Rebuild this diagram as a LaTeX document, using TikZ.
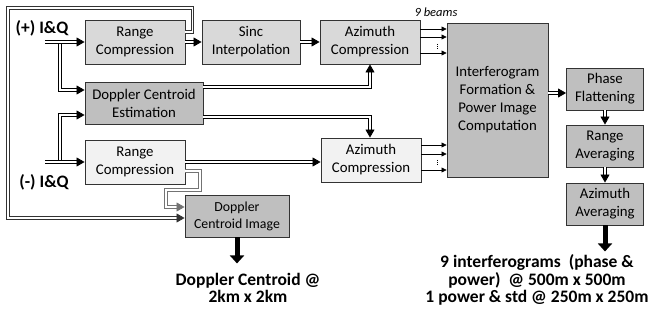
\documentclass[tikz,border=0pt]{standalone}
\usepackage{fontspec}
\setmainfont{Carlito}
\usepackage{xcolor}
\usetikzlibrary{
    arrows.meta,
    positioning
}
\definecolor{boxlight}{HTML}{D9D9D9}
\definecolor{boxmid}{HTML}{BFBFBF}
\definecolor{boxpale}{HTML}{F2F2F2}

\begin{document}
\begin{tikzpicture}[
        x=1pt, y=-1pt,
        >=Stealth,
        block/.style={
            draw=black!80,
            line width=0.9pt,
            align=center,
            inner sep=0pt,
            minimum width=100pt,
            minimum height=44pt,
            font=\fontsize{14.8}{18}\selectfont
        },
        dbl/.style={
            double=white,
            double distance=1.6pt,
            line width=0.8pt,
            -{Triangle[length=8pt,width=9pt]}
        },
        beam/.style={
            line width=0.7pt,
            -{Triangle[length=5pt,width=5pt]}
        },
        fat/.style={
            line width=5pt,
            -{Triangle[length=8pt,width=14pt]}
        },
        lbl/.style={
            font=\bfseries\fontsize{17.5}{17.5}\selectfont,
            align=center
        }
    ]
        \useasboundingbox (0,0) rectangle (661,323);

        % blocks
        \node[block, fill=boxlight] (RCa) at (135,42) {Range\\Compression};
        \node[block, fill=boxlight, minimum width=98pt] (SI) at (251,42) {Sinc\\Interpolation};
        \node[block, fill=boxlight] (AZa) at (370,42) {Azimuth\\Compression};
        \node[block, fill=boxmid, minimum width=118pt, minimum height=42pt] (DCE) at (144,103) {Doppler Centroid\\Estimation};
        \node[block, fill=boxpale] (RCb) at (135,162) {Range\\Compression};
        \node[block, fill=boxpale] (AZb) at (371,160) {Azimuth\\Compression};
        \node[block, fill=boxmid, minimum width=104pt, minimum height=42pt,
              font=\fontsize{13.8}{17}\selectfont] (DCI) at (237,216) {Doppler\\Centroid Image};
        \node[block, fill=boxmid, minimum width=101pt, minimum height=154pt] (IFG) at (497.5,100)
            {Interferogram\\Formation \&\\Power Image\\Computation};
        \node[block, fill=boxmid, minimum width=77pt, minimum height=42pt] (PF) at (605,89) {Phase\\Flattening};
        \node[block, fill=boxmid, minimum width=77pt, minimum height=42pt] (RA) at (605,146) {Range\\Averaging};
        \node[block, fill=boxmid, minimum width=77pt, minimum height=42pt] (AA) at (605,204) {Azimuth\\Averaging};

        % inputs and outputs
        \node[lbl] (inPlus) at (42,28) {(+) I\&Q};
        \node[lbl] (inMinus) at (44,182) {(-) I\&Q};
        \node[font=\itshape\fontsize{12.5}{14}\selectfont] (beams) at (436,12) {9 beams};
        \node[lbl] (dcOut) at (248,288) {Doppler Centroid @\\2km x 2km};
        \node[lbl] (ifgOut) at (537,280) {9 interferograms~~(phase \&\\power)~~@ 500m x 500m\\1 power \& std @ 250m x 250m};

        \coordinate (plusIn) at (45,42);
        \coordinate (minusIn) at (45,162);
        \coordinate (loopCorner) at (8,8);

        % feedback loops to the image block
        \draw[dbl, draw=black!80] ([yshift=10pt]RCa.east) -- ++(7,0) |- (loopCorner) |- ([yshift=-2pt]DCI.west);
        \draw[dbl, draw=black!55] ([yshift=-9pt]RCb.east) -| (200,190) -| (166,207) -- ([yshift=9pt]DCI.west);

        % branches to centroid estimation
        \draw[dbl] (60,42) |- ([yshift=13pt]DCE.west);
        \draw[dbl] (60,162) |- ([yshift=-12pt]DCE.west);
        \draw[dbl] (plusIn) -- (RCa.west);
        \draw[dbl] (minusIn) -- (RCb.west);

        % main chain
        \draw[dbl] (RCa) -- (SI);
        \draw[dbl] (SI) -- (AZa);
        \draw[dbl] ([yshift=16pt]DCE.east) -| (AZa.south);
        \draw[dbl] ([yshift=-14pt]DCE.east) -| ([xshift=-1pt]AZb.north);
        \draw[dbl] (RCb.east) -- (RCb.east -| AZb.west);

        % beams
        \foreach \s in {13,5,-11}
            \draw[beam] ([yshift=\s pt]AZa.east) -- ([yshift=\s pt]AZa.east -| IFG.west);
        \foreach \s in {15,6,-10}
            \draw[beam] ([yshift=\s pt]AZb.east) -- ([yshift=\s pt]AZb.east -| IFG.west);
        \draw[line width=0.8pt, dash pattern=on 0.9pt off 1.3pt] (437,44) -- (437,50);
        \draw[line width=0.8pt, dash pattern=on 0.9pt off 1.3pt] (437,160) -- (437,166);

        \draw[dbl] ([yshift=-4pt]PF.west -| IFG.east) -- ([yshift=-4pt]PF.west);
        \draw[dbl] (PF) -- (RA);
        \draw[dbl] (RA) -- (AA);

        % outputs
        \draw[fat] (DCI.south) -- ++(0,26);
        \draw[fat] (AA.south) -- ++(0,26);
    \end{tikzpicture}
\end{document}
